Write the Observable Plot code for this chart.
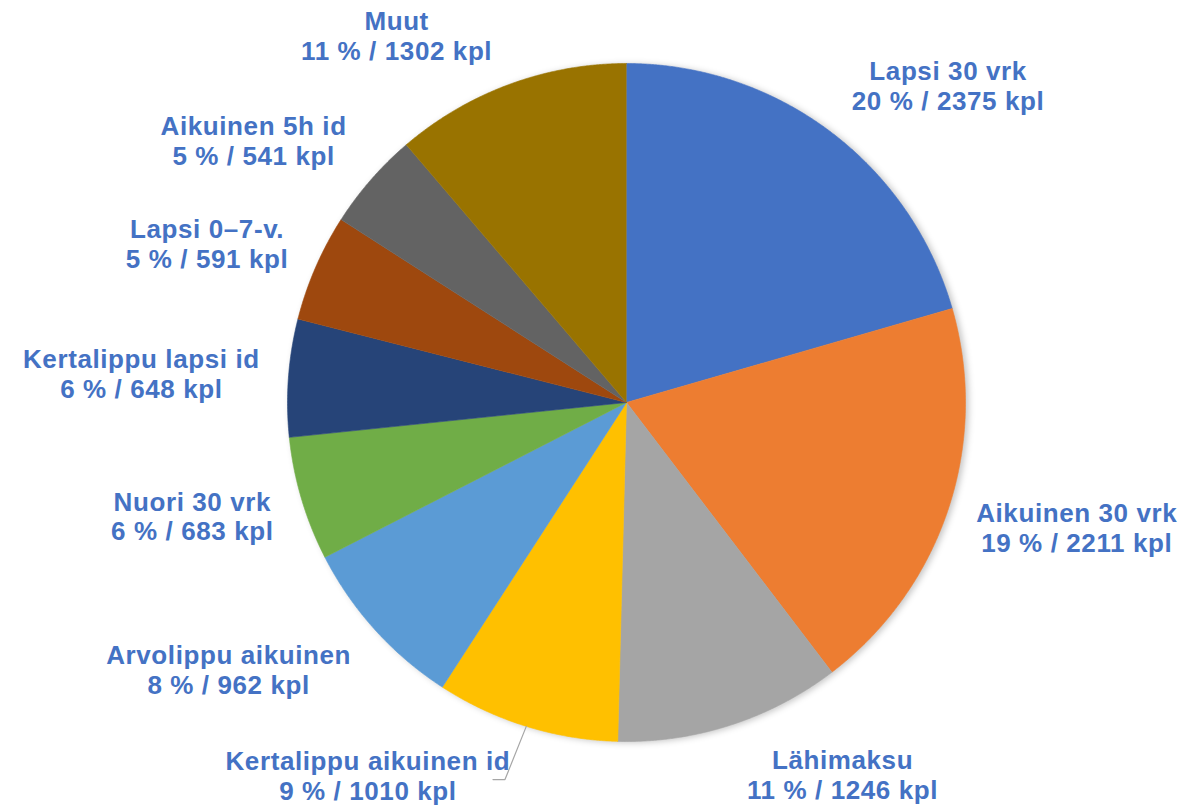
<!DOCTYPE html>
<html><head><meta charset="utf-8">
<script src="https://cdn.jsdelivr.net/npm/d3@7"></script>
<script src="https://cdn.jsdelivr.net/npm/@observablehq/plot@0.6"></script>
<style>html,body{margin:0;padding:0;background:#fff;} #chart svg{display:block;}</style>
</head><body><div id="chart"></div>
<script>
// ---- data ----
const categories = ["Lapsi 30 vrk","Aikuinen 30 vrk","Lähimaksu","Kertalippu aikuinen id","Arvolippu aikuinen","Nuori 30 vrk","Kertalippu lapsi id","Lapsi 0–7-v.","Aikuinen 5h id","Muut"];
const counts = [2375,2211,1246,1010,962,683,648,591,541,1302];
const percents = [20,19,11,9,8,6,6,5,5,11];
const colors = ["#4472C4","#ED7D31","#A5A5A5","#FFC000","#5B9BD5","#70AD47","#264478","#9E480E","#636363","#997300"];
const leaderLabels = ["Kertalippu aikuinen id"];

// ---- layout ----
const W = 1188, H = 806, mL = 287, mR = 223, mT = 63, mB = 65;
const Rpx = (W - mL - mR) / 2;
const fontSize = 26, lh = 1.15, ls = 0.6;

const arcs = d3.pie().sort(null).value(d => d)(counts);
const slicePts = [];
arcs.forEach((a, i) => {
  slicePts.push({name: categories[i], x: 0, y: 0});
  const n = Math.max(2, Math.ceil((a.endAngle - a.startAngle) / (Math.PI / 720)));
  for (let k = 0; k <= n; k++) {
    const t = a.startAngle + (a.endAngle - a.startAngle) * k / n;
    slicePts.push({name: categories[i], x: Math.sin(t), y: Math.cos(t)});
  }
});

const ctx = document.createElement("canvas").getContext("2d");
ctx.font = `bold ${fontSize}px "Liberation Sans"`;
const tw = s => ctx.measureText(s).width + ls * (s.length - 1);

const labels = arcs.map((a, i) => {
  const l1 = categories[i], l2 = `${percents[i]} % / ${counts[i]} kpl`;
  const w = Math.max(tw(l1), tw(l2)), h = 64;
  const m = (a.startAngle + a.endAngle) / 2, s = Math.sin(m), c = Math.cos(m);
  const r = Rpx + 18;
  const fx = Math.max(-1, Math.min(1, s * 3.5)), fy = Math.max(-1, Math.min(1, c * 1.3));
  const px = r * s + fx * (w / 2 + 11), py = r * c + fy * h / 2;
  return {name: l1, text: l1 + "\n" + l2, x: px / Rpx, y: py / Rpx, w1: tw(l1), m};
});

const leaders = [];
labels.forEach(L => {
  if (!leaderLabels.includes(L.name)) return;
  const right = L.x * Rpx + L.w1 / 2, yy = L.y * Rpx - 4;
  leaders.push({name: L.name, x: (right - 17) / Rpx, y: yy / Rpx});
  leaders.push({name: L.name, x: (right - 5) / Rpx, y: yy / Rpx});
  leaders.push({name: L.name, x: Math.sin(L.m), y: Math.cos(L.m)});
});

const chart = Plot.plot({
  width: W, height: H, marginLeft: mL, marginRight: mR, marginTop: mT, marginBottom: mB,
  x: {domain: [-1, 1], axis: null},
  y: {domain: [-1, 1], axis: null},
  color: {domain: categories, range: colors},
  style: {fontFamily: '"Liberation Sans", Arial, sans-serif', background: "white", overflow: "visible"},
  marks: [
    Plot.line(slicePts, {x: "x", y: "y", z: "name", fill: "name", stroke: "name", strokeWidth: 0.6}),
    Plot.line(leaders, {x: "x", y: "y", z: "name", stroke: "#A6A6A6", strokeWidth: 1.2}),
    Plot.text(labels, {x: "x", y: "y", text: "text", fill: "#4472C4", fontSize, fontWeight: "bold",
      lineHeight: lh, textAnchor: "middle", lineAnchor: "middle"})
  ]
});
chart.querySelectorAll("text").forEach(t => t.style.letterSpacing = ls + "px");
const pie = chart.querySelector('g[aria-label="line"]');
if (pie) pie.style.filter = "drop-shadow(3px 1px 3px rgba(0,0,0,0.22))";
document.getElementById("chart").appendChild(chart);
</script>
</body></html>
